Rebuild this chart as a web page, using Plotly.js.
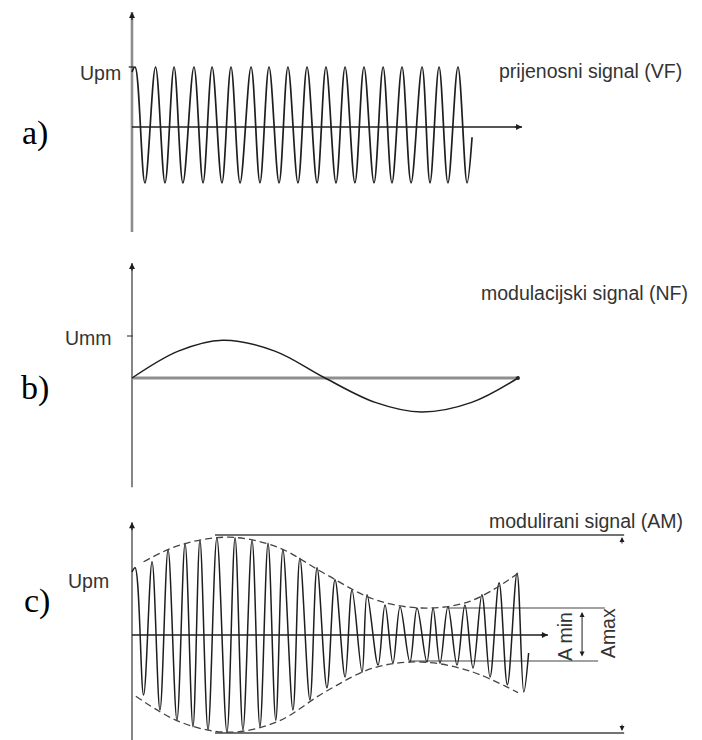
<!DOCTYPE html>
<html>
<head>
<meta charset="utf-8">
<script src="https://cdn.plot.ly/plotly-3.0.1.min.js"></script>
<style>
  html, body { margin: 0; padding: 0; background: #ffffff; }
  #chart { width: 702px; height: 740px; }
</style>
</head>
<body>
<div id="chart"></div>
<script>
// ---------------- DATA ----------------
// time axis in ms (one period of the modulating signal = 20 ms)

// a) carrier (VF): start, alternating peaks/troughs, end
const carrierT = [0, 0.16, 0.67, 1.22, 1.71, 2.18, 2.64, 3.21, 3.68, 4.15, 4.66, 5.13, 5.60, 6.17, 6.63,
  7.10, 7.62, 8.08, 8.60, 9.07, 9.59, 10.05, 10.57, 11.04, 11.55, 12.02, 12.54, 13.01, 13.47,
  13.99, 14.46, 15.03, 15.44, 15.91, 16.37, 16.89, 17.36, 17.62];
const carrierU = [0.92, 1.0, -0.93, 1.0, -0.93, 1.0, -0.93, 1.0, -0.93, 1.0, -0.93, 1.0, -0.93, 1.0, -0.93,
  1.0, -0.93, 1.0, -0.93, 1.0, -0.93, 1.0, -0.93, 1.0, -0.93, 1.0, -0.93, 1.0, -0.93,
  1.0, -0.93, 1.0, -0.93, 1.0, -0.93, 1.0, -0.93, -0.17];

// b) modulating signal (NF)
const modT = [0, 2.4, 4.7, 7.4, 10.0, 12.6, 15.0, 17.6, 20.0];
const modU = [0, 0.64, 0.90, 0.64, 0, -0.58, -0.81, -0.58, 0];

// c) modulated signal (AM): start, alternating peaks/troughs, end
const amT = [0, 0.16, 0.60, 1.04, 1.45, 1.87, 2.33, 2.75, 3.16, 3.52, 3.94, 4.40, 4.92, 5.34, 5.75,
  6.22, 6.63, 7.05, 7.45, 7.82, 8.34, 8.70, 9.22, 9.59, 10.10, 10.52, 11.04, 11.40, 11.92,
  12.18, 12.75, 13.11, 13.52, 13.89, 14.40, 14.77, 15.28, 15.60, 15.96, 16.37, 16.84, 17.25,
  17.67, 18.13, 18.55, 19.02, 19.45, 19.95, 20.30, 20.55];
const amU = [1.05, 1.12, -1.0, 1.22, -1.25, 1.42, -1.42, 1.53, -1.53, 1.58, -1.58, 1.62, -1.62, 1.62, -1.58,
  1.58, -1.53, 1.53, -1.42, 1.42, -1.25, 1.28, -1.08, 1.12, -0.88, 0.92, -0.70, 0.75, -0.62,
  0.67, -0.50, 0.50, -0.47, 0.47, -0.45, 0.45, -0.45, 0.45, -0.47, 0.47, -0.50, 0.50,
  -0.55, 0.67, -0.70, 0.87, -0.83, 1.03, -0.95, -0.30];

// c) envelope (dashed)
const envTopT = [0.6, 2.5, 5, 7.5, 10, 12.5, 15, 17.5, 20.1];
const envTopU = [1.22, 1.5, 1.63, 1.47, 1.02, 0.6, 0.45, 0.56, 1.05];
const envBotT = [0.2, 2.5, 5, 7.5, 10, 12.5, 15, 17.5, 20.0];
const envBotU = [-1.02, -1.45, -1.62, -1.45, -0.95, -0.55, -0.45, -0.6, -0.96];

// c) Amax / Amin reference levels
const AmaxTop = 1.667, AmaxBot = -1.633;
const AminTop = 0.45, AminBot = -0.433;

// labels
const panelLabels = ['a)', 'b)', 'c)'];
const signalNames = ['prijenosni signal (VF)', 'modulacijski signal (NF)', 'modulirani signal (AM)'];
const ampLabels = ['Upm', 'Umm', 'Upm'];

// ---------------- STYLE / LAYOUT ----------------
const INK = '#1e1e1e';
const TXT = '#333333';
const SANS = 'Liberation Sans, Arial, Helvetica, sans-serif';
const SERIF = 'Liberation Serif, Times New Roman, serif';
const FS = 19.5;

function line(x, y, ya, color, width, extra) {
  return Object.assign({
    type: 'scatter', mode: 'lines', x: x, y: y, xaxis: 'x', yaxis: ya,
    line: { color: color, width: width }, hoverinfo: 'skip'
  }, extra || {});
}
function curve(x, y, ya, width, dash) {
  const l = { color: dash ? '#444' : INK, width: width, shape: 'spline', smoothing: 1 };
  if (dash) l.dash = dash;
  return line(x, y, ya, l.color, width, { line: l });
}

const traces = [
  // axes lines
  line([0, 0], [-1.75, 1.917], 'y', '#8c8c8c', 2.6),
  line([0, 20.21], [0, 0], 'y', INK, 1.5),
  line([0, 0], [-2.6, 2.74], 'y2', '#444', 1.3),
  line([0, 20.0], [0, 0], 'y2', '#8f8f8f', 3),
  line([0, 0], [-1.75, 1.88], 'y3', '#444', 1.3),
  line([0, 21.55], [0, 0], 'y3', INK, 1.4),
  // ticks
  line([-0.17, 0.1], [1, 1], 'y', INK, 1.2),
  line([-0.26, 0.05], [1, 1], 'y2', '#444', 1.2),
  // Amax / Amin reference lines
  line([4.3, 25.5], [AmaxTop, AmaxTop], 'y3', '#444', 1.3),
  line([4.3, 25.5], [AmaxBot, AmaxBot], 'y3', '#444', 1.3),
  line([16.4, 24.5], [AminTop, AminTop], 'y3', '#444', 1.2),
  line([14.4, 24.15], [AminBot, AminBot], 'y3', '#444', 1.2),
  // signals
  curve(carrierT, carrierU, 'y', 1.7),
  curve(modT, modU, 'y2', 1.5),
  curve(amT, amU, 'y3', 1.5),
  curve(envTopT, envTopU, 'y3', 1.3, '7px,4px'),
  curve(envBotT, envBotU, 'y3', 1.3, '7px,4px')
];

function head(x, y, ax, ay, yref, extra) {
  return Object.assign({
    x: x, y: y, ax: ax, ay: ay, xref: 'x', yref: yref, axref: 'x', ayref: yref,
    text: '', showarrow: true, arrowhead: 2, arrowsize: 1, arrowwidth: 1.2, arrowcolor: INK, standoff: 0
  }, extra || {});
}
function txt(text, x, y, yref, xanchor, extra) {
  return Object.assign({
    text: text, x: x, y: y, xref: 'x', yref: yref, showarrow: false,
    xanchor: xanchor, yanchor: 'middle', font: { family: SANS, size: FS, color: TXT }
  }, extra || {});
}
function panel(text, px, py) {
  return { text: text, xref: 'paper', yref: 'paper', x: px / 702, y: 1 - py / 740, showarrow: false,
    xanchor: 'center', yanchor: 'middle', font: { family: SERIF, size: 34, color: '#000' } };
}

const annotations = [
  head(0, 1.917, 0, 1.76, 'y'),
  head(20.21, 0, 19.75, 0, 'y'),
  head(0, 2.74, 0, 2.52, 'y2'),
  head(20.0, 0, 19.8, 0, 'y2', { arrowwidth: 1.2, arrowsize: 0.8, arrowhead: 6, arrowcolor: '#222' }),
  head(0, 1.88, 0, 1.72, 'y3'),
  head(21.55, 0, 21.1, 0, 'y3'),
  head(25.39, 1.633, 25.39, 1.5, 'y3', { arrowwidth: 1 }),
  head(25.39, -1.6, 25.39, -1.47, 'y3', { arrowwidth: 1 }),
  head(23.32, 0.383, 23.32, -0.383, 'y3', { arrowside: 'end+start', arrowwidth: 1 }),

  txt(ampLabels[0], -0.45, 0.9, 'y', 'right'),
  txt(ampLabels[1], -0.95, 0.95, 'y2', 'right'),
  txt(ampLabels[2], -1.1, 0.9, 'y3', 'right'),
  txt(signalNames[0], 18.91, 0.933, 'y', 'left'),
  txt(signalNames[1], 17.98, 2.02, 'y2', 'left'),
  txt(signalNames[2], 18.39, 1.9, 'y3', 'left'),
  txt('A min', 22.44, -0.03, 'y3', 'center', { textangle: -90 }),
  txt('Amax', 24.66, 0.03, 'y3', 'center', { textangle: -90 }),

  panel(panelLabels[0], 35, 133),
  panel(panelLabels[1], 35, 388),
  panel(panelLabels[2], 37, 601)
];

const hidden = { visible: false, fixedrange: true };
const layout = {
  width: 702, height: 740,
  margin: { l: 0, r: 0, t: 0, b: 0, pad: 0 },
  paper_bgcolor: '#ffffff', plot_bgcolor: '#ffffff',
  showlegend: false,
  xaxis: Object.assign({ range: [-6.839, 29.534], domain: [0, 1], anchor: 'y3' }, hidden),
  yaxis: Object.assign({ range: [-2.05, 2.1167], domain: [0.662162, 1] }, hidden),
  yaxis2: Object.assign({ range: [-2.7857, 3.0476], domain: [0.331081, 0.662162] }, hidden),
  yaxis3: Object.assign({ range: [-1.75, 2.3333], domain: [0, 0.331081] }, hidden),
  annotations: annotations
};

Plotly.newPlot('chart', traces, layout, { staticPlot: true, displayModeBar: false });
</script>
</body>
</html>
